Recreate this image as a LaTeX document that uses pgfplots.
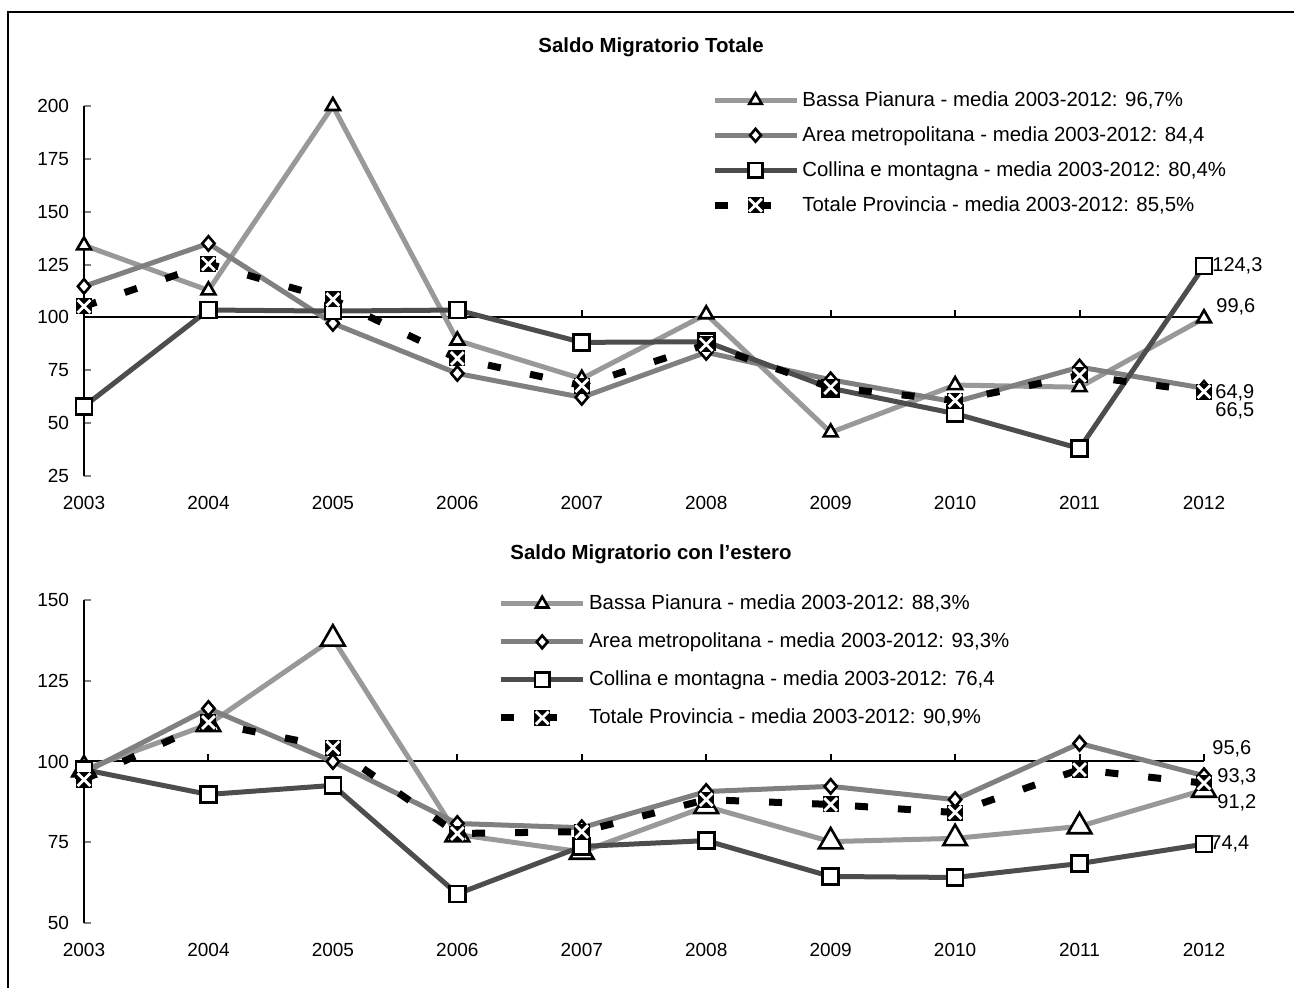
\documentclass[border=0pt]{standalone}
\usepackage{fontspec}
\setmainfont{Liberation Sans}
\usepackage{pgfplots}
\pgfplotsset{compat=1.18}

\definecolor{bassa}{RGB}{153,153,153}
\definecolor{area}{RGB}{128,128,128}
\definecolor{collina}{RGB}{77,77,77}

% black box with a white cross
\pgfdeclareplotmark{xbox}{%
  \pgfsetfillcolor{black}%
  \pgfpathrectangle{\pgfqpoint{-\pgfplotmarksize}{-\pgfplotmarksize}}{\pgfqpoint{2\pgfplotmarksize}{2\pgfplotmarksize}}%
  \pgfusepathqfill
  \pgfsetstrokecolor{white}%
  \pgfsetlinewidth{1.4bp}%
  \pgfsetbuttcap
  \pgfpathmoveto{\pgfqpoint{-.8\pgfplotmarksize}{-.8\pgfplotmarksize}}%
  \pgfpathlineto{\pgfqpoint{.8\pgfplotmarksize}{.8\pgfplotmarksize}}%
  \pgfpathmoveto{\pgfqpoint{-.8\pgfplotmarksize}{.8\pgfplotmarksize}}%
  \pgfpathlineto{\pgfqpoint{.8\pgfplotmarksize}{-.8\pgfplotmarksize}}%
  \pgfusepathqstroke
}

% white diamond, as wide as it is tall
\pgfdeclareplotmark{rhomb}{%
  \pgfpathmoveto{\pgfqpoint{0pt}{\pgfplotmarksize}}%
  \pgfpathlineto{\pgfqpoint{.85\pgfplotmarksize}{0pt}}%
  \pgfpathlineto{\pgfqpoint{0pt}{-\pgfplotmarksize}}%
  \pgfpathlineto{\pgfqpoint{-.85\pgfplotmarksize}{0pt}}%
  \pgfpathclose
  \pgfusepathqfillstroke
}

\tikzset{
  vlab/.style={font=\fontsize{10bp}{12bp}\selectfont, inner sep=0pt, anchor=west},
  legend mark size/.initial=3.6bp,
}

\pgfplotsset{
  panel/.style={
    scale only axis, width=560bp, xmin=2003, xmax=2012, clip=false,
    axis y line*=left, axis x line*=bottom,
    x axis line style={draw=none}, xtick style={draw=none},
    y axis line style={line width=1bp},
    ytick style={line width=1bp}, tick align=inside, major tick length=3.5bp,
    xtick={2003,2004,2005,2006,2007,2008,2009,2010,2011,2012},
    x tick label style={/pgf/number format/1000 sep=, yshift=-6.5bp},
    y tick label style={xshift=-4bp},
    /pgf/number format/assume math mode=true,
    tick label style={font=\fontsize{9.5bp}{11bp}\selectfont},
    legend cell align=left,
    legend style={draw=none, fill=none, inner sep=0pt, anchor=north west,
      font=\fontsize{10.2bp}{12bp}\selectfont,
      nodes={inner sep=1.2bp}},
    legend image code/.code={%
      \draw[##1, mark repeat=2, mark phase=2,
        mark size=\pgfkeysvalueof{/tikz/legend mark size}]
        plot coordinates {(0bp,0bp) (20.5bp,0bp) (41bp,0bp)};},
  },
  sBassa/.style={color=bassa, line width=2.5bp, mark=triangle*,
    mark options={fill=white, draw=black, line width=1.3bp}},
  sArea/.style={color=area, line width=2.5bp, mark=rhomb,
    mark size=3.6bp, mark options={fill=white, draw=black, line width=1.3bp},
    legend mark size=3.2bp},
  sCollina/.style={color=collina, line width=2.5bp, mark=square*,
    mark size=4bp, mark options={fill=white, draw=black, line width=1.3bp}},
  sTotale/.style={color=black, line width=3.5bp, dash pattern=on 6.5bp off 15bp,
    mark=xbox, mark size=4bp, mark options={solid}, legend mark size=4bp},
}

\begin{document}
\begin{tikzpicture}
\path[use as bounding box] (0,0) rectangle (647bp,494bp);
\draw[line width=1bp] (4bp,0) -- (4bp,488bp) -- (647bp,488bp);

\node[font=\bfseries\fontsize{10.2bp}{12bp}\selectfont] at (325.5bp,470.5bp) {Saldo Migratorio Totale};
\node[font=\bfseries\fontsize{10.2bp}{12bp}\selectfont] at (325.5bp,217bp) {Saldo Migratorio con l’estero};

% ---------- Saldo migratorio totale ----------
\begin{axis}[panel, at={(42bp,256bp)}, anchor=south west, height=185bp,
  ymin=25, ymax=200, ytick={25,50,...,200},
  legend style={at={(0.5595,1.047)}, row sep=6.2bp}]
  \draw[line width=1bp] (axis cs:2003,100) -- (axis cs:2012,100);
  \pgfplotsinvokeforeach{2004,2005,2006,2007,2008,2009,2010,2011,2012}{%
    \draw[line width=1bp] (axis cs:#1,100) -- (axis cs:#1,103.3);}
  \addplot[sBassa, mark size=4bp] coordinates {
    (2003,134.1) (2004,112.8) (2005,200) (2006,89.1) (2007,71)
    (2008,101.5) (2009,45.6) (2010,68) (2011,67) (2012,99.6)};
  \addlegendentry{Bassa Pianura - media 2003-2012: 96,7\%}
  \addplot[sArea] coordinates {
    (2003,114.7) (2004,135) (2005,97.2) (2006,73.5) (2007,62.2)
    (2008,83.5) (2009,70.5) (2010,60) (2011,76.5) (2012,66.5)};
  \addlegendentry{Area metropolitana - media 2003-2012: 84,4}
  \addplot[sCollina] coordinates {
    (2003,57.9) (2004,103.5) (2005,103) (2006,103.5) (2007,88.2)
    (2008,88.5) (2009,66.5) (2010,54.5) (2011,38) (2012,124.3)};
  \addlegendentry{Collina e montagna - media 2003-2012: 80,4\%}
  \addplot[sTotale] coordinates {
    (2003,105.2) (2004,125.3) (2005,108.5) (2006,80.6) (2007,67.8)
    (2008,87.2) (2009,66.9) (2010,60.7) (2011,72.6) (2012,64.9)};
  \addlegendentry{Totale Provincia - media 2003-2012: 85,5\%}
  \node[vlab, xshift=4bp] at (axis cs:2012,124.3) {124,3};
  \node[vlab, xshift=6bp, yshift=5.5bp] at (axis cs:2012,99.6) {99,6};
  \node[vlab, xshift=5.5bp, yshift=-0.5bp] at (axis cs:2012,64.9) {64,9};
  \node[vlab, xshift=5.5bp, yshift=-11.5bp] at (axis cs:2012,66.5) {66,5};
\end{axis}

% ---------- Saldo migratorio con l'estero ----------
\begin{axis}[panel, at={(42bp,32.5bp)}, anchor=south west, height=161.5bp,
  ymin=50, ymax=150, ytick={50,75,...,150},
  legend style={at={(0.369,1.024)}, row sep=7.7bp}]
  \draw[line width=1bp] (axis cs:2003,100) -- (axis cs:2012,100);
  \pgfplotsinvokeforeach{2004,2005,2006,2007,2008,2009,2010,2011,2012}{%
    \draw[line width=1bp] (axis cs:#1,100) -- (axis cs:#1,102.2);}
  \addplot[sBassa, mark size=6.8bp] coordinates {
    (2003,97.5) (2004,111.5) (2005,138) (2006,77.4) (2007,72)
    (2008,86.1) (2009,75.2) (2010,76.2) (2011,79.9) (2012,91.2)};
  \addlegendentry{Bassa Pianura - media 2003-2012: 88,3\%}
  \addplot[sArea] coordinates {
    (2003,96.5) (2004,116.4) (2005,100) (2006,80.8) (2007,79.5)
    (2008,90.7) (2009,92.3) (2010,88.2) (2011,105.6) (2012,95.6)};
  \addlegendentry{Area metropolitana - media 2003-2012: 93,3\%}
  \addplot[sCollina] coordinates {
    (2003,97.5) (2004,89.8) (2005,92.6) (2006,59) (2007,73.7)
    (2008,75.5) (2009,64.4) (2010,64.1) (2011,68.4) (2012,74.4)};
  \addlegendentry{Collina e montagna - media 2003-2012: 76,4}
  \addplot[sTotale] coordinates {
    (2003,94.4) (2004,112.1) (2005,104.3) (2006,77.7) (2007,78.3)
    (2008,88.2) (2009,86.7) (2010,84.2) (2011,97.5) (2012,93.3)};
  \addlegendentry{Totale Provincia - media 2003-2012: 90,9\%}
  \node[vlab, xshift=4bp, yshift=13.5bp] at (axis cs:2012,95.6) {95,6};
  \node[vlab, xshift=6.5bp, yshift=3bp] at (axis cs:2012,93.3) {93,3};
  \node[vlab, xshift=6.5bp, yshift=-6.5bp] at (axis cs:2012,91.2) {91,2};
  \node[vlab, xshift=3bp] at (axis cs:2012,74.4) {74,4};
\end{axis}
\end{tikzpicture}
\end{document}
